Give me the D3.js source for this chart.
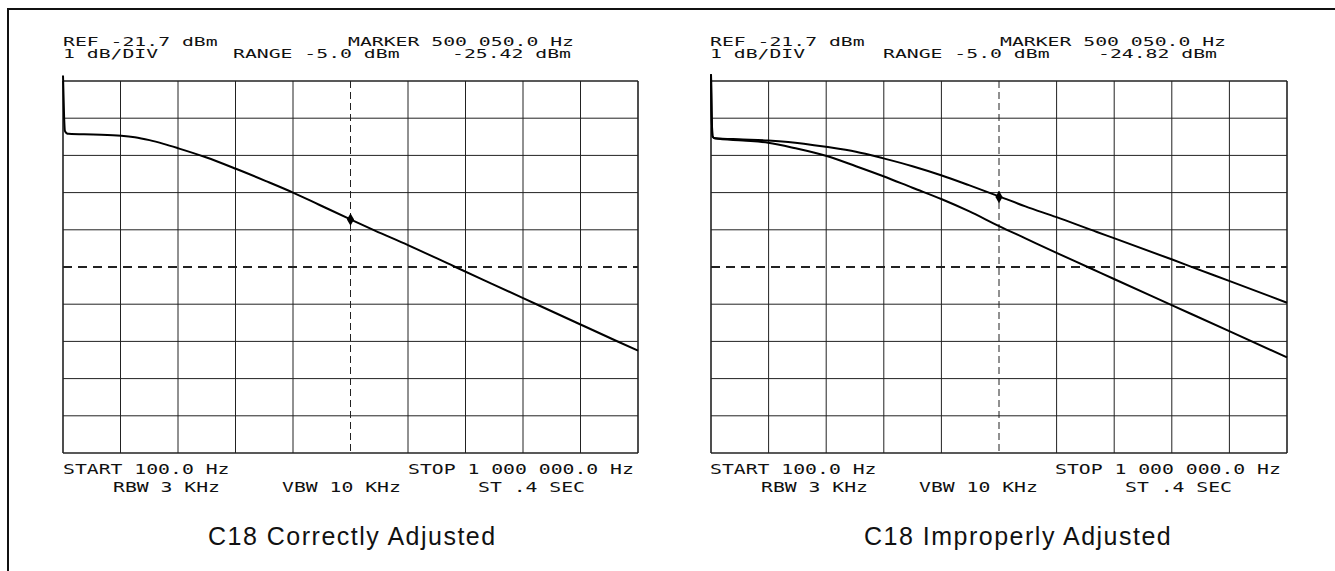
<!DOCTYPE html>
<html>
<head>
<meta charset="utf-8">
<script src="https://cdn.jsdelivr.net/npm/d3@7"></script>
<style>
  html, body { margin: 0; padding: 0; background: #fff; }
  svg { display: block; }
</style>
</head>
<body>
<svg id="chart" width="1335" height="571"></svg>
<script>
// ---------------- data ----------------
const refLevel = -21.7;      // dBm, top graticule line
const dbPerDiv = 1;          // dB per division
const startHz = 100;
const stopHz = 1000000;
const divisions = 10;

// Left panel: C18 correctly adjusted (single trace)
const correctHz  = [100, 2100, 3400, 6100, 9900, 52400, 101400, 125000, 150400, 175000, 200800, 248500, 300800, 353000, 400100, 444500, 500050, 542500, 600000, 679700, 745100, 799300, 900000, 960800, 1000000];
const correctDbm = [-21.55, -22.70, -23.04, -23.10, -23.12, -23.14, -23.17, -23.21, -23.29, -23.39, -23.51, -23.75, -24.06, -24.39, -24.70, -25.02, -25.42, -25.72, -26.11, -26.68, -27.145, -27.53, -28.245, -28.675, -28.95];

// Right panel: C18 improperly adjusted (two traces)
const improperUpperHz  = [100, 1100, 3100, 6600, 55700, 99400, 134100, 199400, 251700, 299400, 349800, 400800, 447800, 500050, 545900, 600000, 670000, 700700, 800700, 839900, 900700, 1000000];
const improperUpperDbm = [-21.52, -22.50, -23.20, -23.24, -23.27, -23.30, -23.34, -23.47, -23.60, -23.78, -23.99, -24.24, -24.50, -24.80, -25.07, -25.36, -25.76, -25.93, -26.50, -26.73, -27.08, -27.66];
const improperLowerHz  = [100, 1100, 3100, 6600, 55700, 99400, 147200, 199400, 251700, 299400, 349800, 400800, 447800, 500050, 545900, 600000, 656900, 700700, 800700, 900700, 1000000];
const improperLowerDbm = [-21.52, -22.50, -23.20, -23.24, -23.30, -23.36, -23.51, -23.71, -23.99, -24.26, -24.57, -24.88, -25.20, -25.60, -25.93, -26.32, -26.72, -27.03, -27.73, -28.43, -29.13];

// Marker readouts
const markerHz = 500050;
const markerDbmCorrect = -25.42;
const markerDbmImproper = -24.82;

// Annotation texts
const headerLeft   = ["REF -21.7 dBm", "1 dB/DIV"];
const headerMid    = ["MARKER 500 050.0 Hz", "RANGE -5.0 dBm"];
const readoutsText = ["-25.42 dBm", "-24.82 dBm"];
const footerLine1  = ["START 100.0 Hz", "STOP 1 000 000.0 Hz"];
const footerLine2  = ["RBW 3 KHz", "VBW 10 KHz", "ST .4 SEC"];
const captions     = ["C18 Correctly Adjusted", "C18 Improperly Adjusted"];

// ---------------- drawing ----------------
const svg = d3.select("#chart");

// outer frame (top and left)
svg.append("path")
  .attr("d", "M8,571 L8,9 L1335,9")
  .attr("fill", "none").attr("stroke", "#111").attr("stroke-width", 2);

const gridTop = 81, gridBottom = 453;

const panels = [
  {
    x0: 63, x1: 638,
    traces: [{hz: correctHz, dbm: correctDbm}],
    marker: {hz: markerHz, dbm: markerDbmCorrect},
    readout: readoutsText[0],
    textX: {ref: 63, marker: 348, range: 233, readout: 452, start: 63, stop: 408, rbw: 113, vbw: 282, st: 478},
    caption: captions[0], captionX: 208
  },
  {
    x0: 711, x1: 1287,
    traces: [{hz: improperUpperHz, dbm: improperUpperDbm}, {hz: improperLowerHz, dbm: improperLowerDbm}],
    marker: {hz: markerHz, dbm: markerDbmImproper},
    readout: readoutsText[1],
    textX: {ref: 710, marker: 1000, range: 883, readout: 1098, start: 710, stop: 1055, rbw: 761, vbw: 919, st: 1125},
    caption: captions[1], captionX: 864
  }
];

function mono(g, text, x, baseline, size) {
  const sx = 11.9 / (0.602 * size);
  g.append("text")
    .attr("transform", `translate(${x},${baseline}) scale(${sx},1)`)
    .attr("font-family", "DejaVu Sans Mono")
    .attr("font-size", size)
    .attr("fill", "#111")
    .text(text);
}

panels.forEach(p => {
  const g = svg.append("g");
  const x = d3.scaleLinear().domain([startHz, stopHz]).range([p.x0, p.x1]);
  const y = d3.scaleLinear().domain([refLevel, refLevel - divisions * dbPerDiv]).range([gridTop, gridBottom]);

  const xTicks = d3.range(divisions + 1).map(i => startHz + i * (stopHz - startHz) / divisions);
  const yTicks = d3.range(divisions + 1).map(i => refLevel - i * dbPerDiv);

  // graticule
  g.selectAll(".vg").data(xTicks).enter().append("line")
    .attr("x1", d => x(d)).attr("x2", d => x(d))
    .attr("y1", gridTop).attr("y2", gridBottom)
    .attr("stroke", "#222")
    .attr("stroke-width", (d, i) => (i === 0 || i === divisions) ? 1.6 : 1)
    .attr("stroke-dasharray", (d, i) => i === divisions / 2 ? "7,4" : null);

  g.selectAll(".hg").data(yTicks).enter().append("line")
    .attr("x1", p.x0).attr("x2", p.x1)
    .attr("y1", d => y(d)).attr("y2", d => y(d))
    .attr("stroke", "#222")
    .attr("stroke-width", (d, i) => (i === 0 || i === divisions) ? 1.6 : (i === divisions / 2 ? 1.8 : 1))
    .attr("stroke-dasharray", (d, i) => i === divisions / 2 ? "9,6" : null);

  // traces
  const line = d3.line()
    .x(d => x(d[0])).y(d => y(d[1]))
    .curve(d3.curveMonotoneX);
  p.traces.forEach(t => {
    const pts = t.hz.map((h, i) => [h, t.dbm[i]]);
    g.append("path").attr("d", line(pts))
      .attr("fill", "none").attr("stroke", "#000").attr("stroke-width", 2)
      .attr("stroke-linejoin", "round");
  });

  // marker
  g.append("path")
    .attr("d", d3.symbol().type(d3.symbolDiamond).size(45)())
    .attr("transform", `translate(${x(p.marker.hz)},${y(p.marker.dbm)})`)
    .attr("fill", "#000");

  // header annotations
  const tx = p.textX;
  mono(g, headerLeft[0], tx.ref, 46, 12);
  mono(g, headerLeft[1], tx.ref, 58, 12);
  mono(g, headerMid[0], tx.marker, 46, 12);
  mono(g, headerMid[1], tx.range, 58, 12);
  mono(g, p.readout, tx.readout, 58, 12);

  // footer annotations
  mono(g, footerLine1[0], tx.start, 474, 14);
  mono(g, footerLine1[1], tx.stop, 474, 14);
  mono(g, footerLine2[0], tx.rbw, 492, 14);
  mono(g, footerLine2[1], tx.vbw, 492, 14);
  mono(g, footerLine2[2], tx.st, 492, 14);

  // caption
  g.append("text")
    .attr("x", p.captionX).attr("y", 545)
    .attr("font-family", "Liberation Sans, Arial, sans-serif")
    .attr("font-size", 25)
    .attr("letter-spacing", 1.5)
    .attr("fill", "#111")
    .text(p.caption);
});
</script>
</body>
</html>
